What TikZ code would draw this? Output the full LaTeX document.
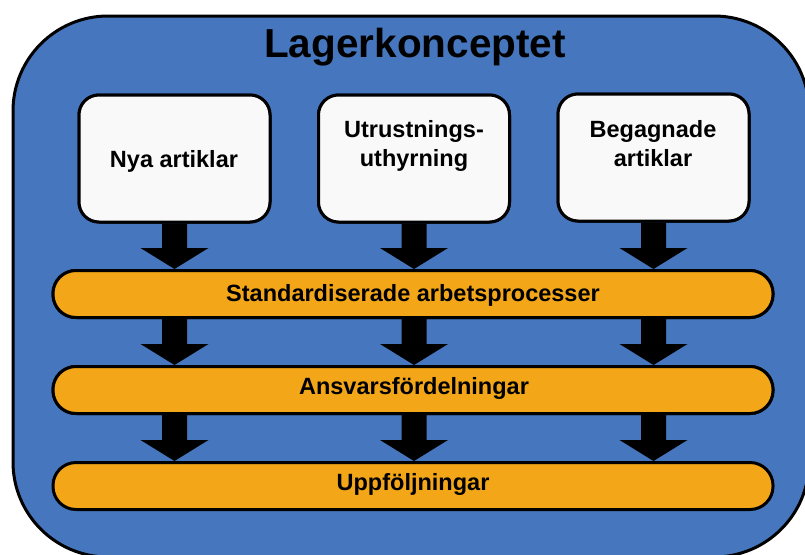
\documentclass[tikz,border=0pt]{standalone}
\usepackage{fontspec}
\setmainfont{Liberation Sans}
\usetikzlibrary{calc}
\definecolor{frameblue}{RGB}{70,119,190}
\definecolor{barorange}{RGB}{242,166,24}
\definecolor{boxwhite}{RGB}{249,249,249}
\tikzset{
  x=1pt, y=-1pt,
  outline/.style={draw=black, line width=3pt},
  srcbox/.style={outline, fill=boxwhite, rounded corners=20pt,
    minimum width=191pt, minimum height=127pt, inner sep=0pt},
  stagebar/.style={outline, fill=barorange, rounded corners=23pt,
    minimum width=720pt, minimum height=47pt, inner sep=0pt},
  boxtext/.style={font=\bfseries\fontsize{23.5}{28.5}\selectfont, align=center, anchor=base, inner sep=0pt},
  bartext/.style={font=\bfseries\fontsize{23.5}{28.5}\selectfont, anchor=base, inner sep=0pt},
}
% thick downward block arrow from the bottom of #1 to the top of #2, at the x of #1
\newcommand{\blockarrow}[2]{%
  \fill let \p1=(#1), \p2=(#2) in
    (\x1-12.5pt,\y1) -- (\x1+12.5pt,\y1) -- (\x1+12.5pt,\y2+21pt) --
    (\x1+34pt,\y2+21pt) -- (\x2,\y2) -- (\x1-34pt,\y2+21pt) --
    (\x1-12.5pt,\y2+21pt) -- cycle;}
\begin{document}
\begin{tikzpicture}
\useasboundingbox (0,0) rectangle (805,554);
\begin{scope}
  \clip (0,0) rectangle (805,554);
  \draw[outline, fill=frameblue, rounded corners=95pt] (13,16) rectangle (809,557);
\end{scope}

\node[font=\bfseries\fontsize{40.5}{48}\selectfont, anchor=base, inner sep=0pt] (title) at (415,57) {Lagerkonceptet};

% layers
\coordinate (b1c) at (413,294);
\coordinate (b2c) at (413,390);
\coordinate (b3c) at (413,486);
\node[stagebar] (bar1) at (b1c) {};
\node[stagebar] (bar2) at (b2c) {};
\node[stagebar] (bar3) at (b3c) {};

% source boxes
\node[srcbox] (box1) at (174.5,158.5) {};
\node[srcbox] (box2) at (414,158.5) {};
\node[srcbox] (box3) at (653.5,157.5) {};

% arrows between the layers
\foreach \b in {box1,box2,box3} {
  \blockarrow{\b.south}{bar1.north -| \b.south}
  \blockarrow{bar1.south -| \b.south}{bar2.north -| \b.south}
  \blockarrow{bar2.south -| \b.south}{bar3.north -| \b.south}
}

% outlines drawn again over the arrow stems
\node[srcbox] at (box1) {};
\node[srcbox] at (box2) {};
\node[srcbox] at (box3) {};
\node[stagebar] at (b1c) {};
\node[stagebar] at (b2c) {};

% labels
\node[boxtext] (t1) at (174,167) {Nya artiklar};
\node[boxtext] (t2) at (414,166) {Utrustnings-\\uthyrning};
\node[boxtext] (t3) at (653,166) {Begagnade\\artiklar};
\node[bartext] (l1) at (413,301) {Standardiserade arbetsprocesser};
\node[bartext] (l2) at (414,394) {Ansvarsfördelningar};
\node[bartext] (l3) at (413,490) {Uppföljningar};
\end{tikzpicture}
\end{document}
